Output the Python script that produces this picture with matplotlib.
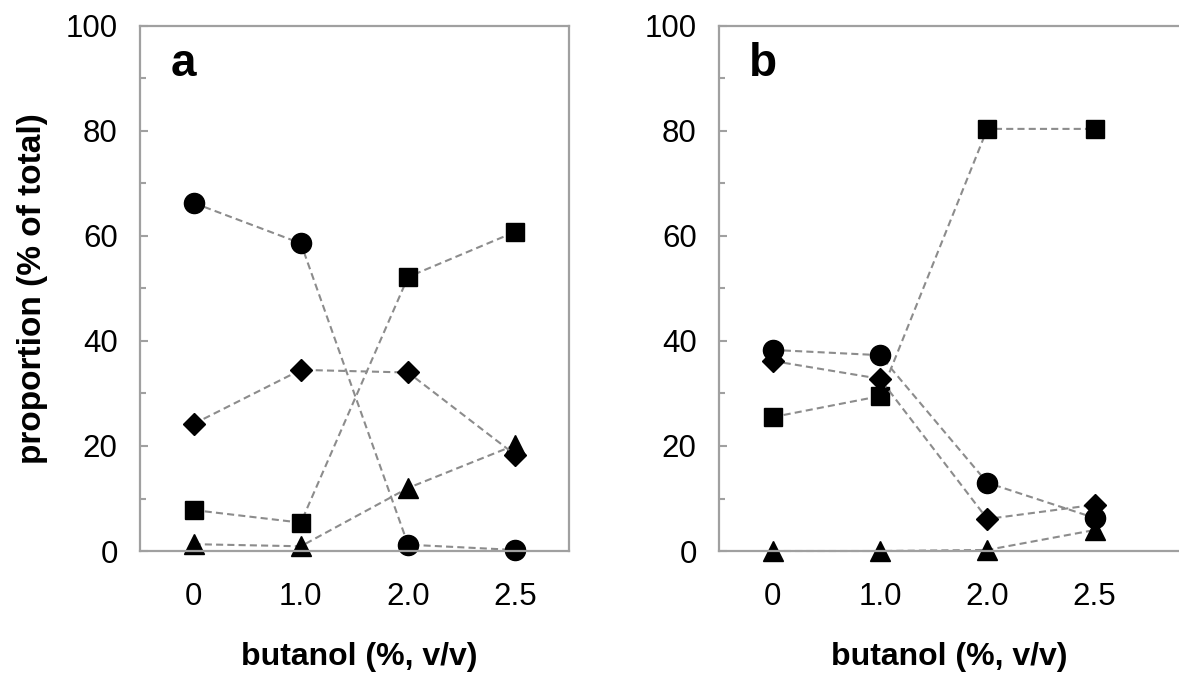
import matplotlib
matplotlib.use('Agg')
import matplotlib.pyplot as plt

plt.rcParams['font.family'] = ['Liberation Sans', 'DejaVu Sans']

# x categories (butanol %, v/v), plotted at evenly spaced positions
conc = ['0', '1.0', '2.0', '2.5']

# panel a
a_circle = [66.3, 58.6, 1.2, 0.2]
a_square = [7.8, 5.4, 52.2, 60.8]
a_diamond = [24.2, 34.5, 34.0, 18.3]
a_triangle = [1.3, 0.9, 12.0, 20.2]

# panel b
b_circle = [38.3, 37.3, 13.0, 6.3]
b_square = [25.5, 29.5, 80.4, 80.4]
b_diamond = [36.2, 32.8, 6.1, 8.8]
b_triangle = [0.0, 0.0, 0.2, 4.0]

spine_col = '#a0a0a0'
line_col = '#8c8c8c'


def draw_panel(ax, circle, square, diamond, triangle, letter, letter_x):
    pos = list(range(len(conc)))
    kw = dict(color=line_col, lw=1.5, ls=(0, (3.4, 2.0)), mfc='black', mec='black', clip_on=False)
    ax.plot(pos, triangle, marker='^', ms=14, **kw)
    ax.plot(pos, circle, marker='o', ms=14.5, **kw)
    ax.plot(pos, square, marker='s', ms=13.5, **kw)
    ax.plot(pos, diamond, marker='D', ms=11, **kw)

    ax.set_ylim(0, 100)
    ax.set_yticks(range(0, 101, 20))
    ax.set_yticks(range(10, 100, 20), minor=True)
    ax.set_xticks(pos)
    ax.set_xticklabels(conc)
    ax.tick_params(axis='x', length=0, pad=22, labelsize=22.5)
    ax.tick_params(axis='y', which='major', direction='in', length=6, width=1.5,
                   color=spine_col, pad=16, labelsize=22.5)
    ax.tick_params(axis='y', which='minor', direction='in', length=4.5, width=1.5,
                   color=spine_col)
    for s in ax.spines.values():
        s.set_color(spine_col)
        s.set_linewidth(1.6)
    ax.text(letter_x, 0.905, letter, transform=ax.transAxes, fontsize=33,
            fontweight='bold', ha='left', va='baseline')


fig = plt.figure(figsize=(11.79, 6.75), dpi=100)
ax1 = fig.add_axes([0.1187, 0.1837, 0.3639, 0.7778])
ax2 = fig.add_axes([0.6098, 0.1837, 0.4097, 0.7778])

draw_panel(ax1, a_circle, a_square, a_diamond, a_triangle, 'a', 0.072)
ax1.set_xlim(-0.5, 3.5)
draw_panel(ax2, b_circle, b_square, b_diamond, b_triangle, 'b', 0.062)
ax2.set_xlim(-0.5, 4.0)

ax1.set_ylabel('proportion (% of total)', fontsize=24, fontweight='bold')
ax1.yaxis.set_label_coords(-0.215, 0.5)

ax1.text(0.51, -0.217, 'butanol (%, v/v)', transform=ax1.transAxes, fontsize=23,
         fontweight='bold', ha='center', va='baseline')
ax2.text(0.476, -0.217, 'butanol (%, v/v)', transform=ax2.transAxes, fontsize=23,
         fontweight='bold', ha='center', va='baseline')

fig.savefig('out.png', dpi=100)
